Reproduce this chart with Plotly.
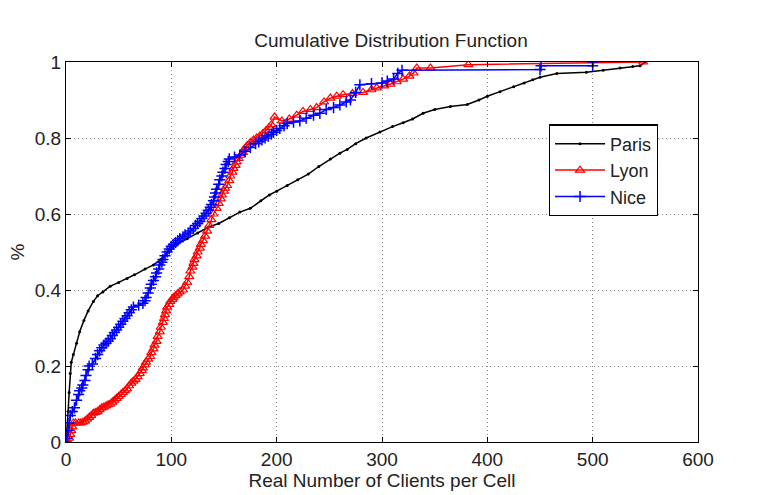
import plotly.graph_objects as go

# ---- data (x = clients per cell, y = cumulative fraction) ----
paris_x = [0, 1, 2, 3, 4, 5, 7, 10, 13, 17, 21, 26, 30, 35, 42, 50, 58, 65, 75, 83, 90, 97,
           105, 115, 125, 135, 145, 155, 165, 175, 185, 193, 200, 210, 220, 230, 240, 251, 260,
           267, 275, 285, 298, 310, 320, 329, 339, 350, 365, 381, 392, 400, 412, 425, 435, 443,
           450, 466, 494, 510, 526, 538, 545, 550]
paris_y = [0, 0.03, 0.08, 0.13, 0.18, 0.21, 0.23, 0.26, 0.29, 0.32, 0.345, 0.37, 0.385, 0.395,
           0.41, 0.42, 0.43, 0.44, 0.455, 0.466, 0.48, 0.5, 0.52, 0.535, 0.55, 0.565, 0.575, 0.59,
           0.605, 0.615, 0.635, 0.65, 0.66, 0.675, 0.69, 0.705, 0.725, 0.745, 0.76, 0.77, 0.785,
           0.8, 0.816, 0.83, 0.84, 0.85, 0.865, 0.875, 0.883, 0.888, 0.9, 0.91, 0.922, 0.935,
           0.945, 0.953, 0.96, 0.97, 0.973, 0.978, 0.984, 0.988, 0.99, 1.0]

lyon_x = [2, 3, 4, 5, 6, 7, 9, 12, 14, 16, 18, 20, 22, 24, 26, 28, 30, 32, 34, 36, 38, 40, 42,
          44, 46, 48, 50, 52, 54, 56, 58, 60, 62, 64, 66, 68, 70, 72, 73, 75, 76, 78, 80, 81, 83,
          84, 86, 87, 89, 90, 92, 93, 94, 95, 96, 98, 99, 101, 102, 104, 106, 108, 111, 113, 115,
          117, 118, 120, 121, 122, 124, 125, 127, 128, 130, 132, 134, 136, 138, 140, 143, 145,
          147, 148, 150, 151, 153, 155, 156, 158, 159, 161, 162, 164, 166, 168, 169, 171, 172,
          175, 178, 181, 184, 187, 190, 193, 195, 198, 205, 212, 219, 225, 232, 238, 245, 251,
          257, 263, 272, 282, 290, 295, 302, 308, 314, 320, 326, 330, 333, 346, 382, 548]
lyon_y = [0, 0.01, 0.02, 0.03, 0.04, 0.05, 0.05, 0.05, 0.05, 0.052, 0.055, 0.06, 0.065, 0.07,
          0.076, 0.078, 0.08, 0.085, 0.09, 0.092, 0.095, 0.098, 0.1, 0.105, 0.11, 0.115, 0.12,
          0.125, 0.13, 0.135, 0.14, 0.148, 0.155, 0.16, 0.165, 0.172, 0.18, 0.188, 0.195, 0.203,
          0.21, 0.218, 0.225, 0.235, 0.245, 0.255, 0.265, 0.278, 0.29, 0.302, 0.315, 0.325,
          0.335, 0.345, 0.355, 0.362, 0.37, 0.375, 0.38, 0.385, 0.39, 0.395, 0.4, 0.41, 0.42,
          0.435, 0.45, 0.46, 0.47, 0.48, 0.49, 0.5, 0.51, 0.52, 0.53, 0.542, 0.555, 0.57, 0.585,
          0.6, 0.615, 0.628, 0.64, 0.65, 0.66, 0.668, 0.675, 0.688, 0.7, 0.71, 0.72, 0.728, 0.737,
          0.746, 0.755, 0.762, 0.77, 0.775, 0.78, 0.788, 0.795, 0.8, 0.805, 0.812, 0.82, 0.828,
          0.835, 0.855, 0.845, 0.85, 0.86, 0.87, 0.875, 0.88, 0.895, 0.905, 0.91, 0.914, 0.917,
          0.92, 0.927, 0.932, 0.937, 0.942, 0.948, 0.955, 0.963, 0.971, 0.984, 0.984, 0.993, 1.0]

nice_x = [0, 1, 2, 3, 4, 6, 8, 10, 12, 13, 15, 16, 18, 19, 21, 22, 25, 28, 30, 32, 34, 36, 38,
          40, 42, 44, 46, 48, 50, 52, 54, 56, 58, 60, 62, 64, 69, 73, 75, 76, 78, 80, 81, 83, 85,
          86, 88, 89, 91, 92, 94, 96, 98, 100, 102, 104, 106, 108, 111, 113, 116, 118, 121, 123,
          125, 127, 129, 131, 133, 135, 137, 138, 140, 141, 142, 143, 145, 146, 148, 149, 151,
          152, 154, 155, 160, 165, 170, 175, 180, 183, 186, 189, 192, 195, 197, 200, 203, 207,
          210, 216, 222, 228, 235, 241, 247, 254, 260, 266, 270, 275, 279, 290, 300, 305, 311,
          315, 319, 450, 451, 500, 500]
nice_y = [0, 0.01, 0.03, 0.05, 0.07, 0.08, 0.09, 0.11, 0.125, 0.135, 0.142, 0.15, 0.162, 0.175,
          0.19, 0.2, 0.205, 0.22, 0.23, 0.24, 0.248, 0.255, 0.26, 0.265, 0.272, 0.28, 0.288,
          0.295, 0.302, 0.31, 0.318, 0.325, 0.332, 0.34, 0.348, 0.355, 0.36, 0.365, 0.372, 0.38,
          0.392, 0.405, 0.415, 0.425, 0.435, 0.445, 0.455, 0.466, 0.473, 0.48, 0.49, 0.5, 0.508,
          0.515, 0.52, 0.525, 0.53, 0.535, 0.54, 0.545, 0.55, 0.555, 0.562, 0.57, 0.575, 0.58,
          0.588, 0.595, 0.602, 0.61, 0.618, 0.625, 0.635, 0.645, 0.655, 0.665, 0.678, 0.69, 0.7,
          0.71, 0.72, 0.73, 0.738, 0.745, 0.75, 0.755, 0.765, 0.775, 0.785, 0.79, 0.795, 0.8,
          0.805, 0.81, 0.815, 0.82, 0.825, 0.832, 0.838, 0.842, 0.845, 0.852, 0.86, 0.865, 0.875,
          0.88, 0.887, 0.895, 0.9, 0.92, 0.94, 0.943, 0.945, 0.95, 0.955, 0.97, 0.978, 0.98,
          0.99, 0.99, 1.0]

x_ticks = [0, 100, 200, 300, 400, 500, 600]
y_ticks = [0, 0.2, 0.4, 0.6, 0.8, 1]
y_tick_text = ["0", "0.2", "0.4", "0.6", "0.8", "1"]

FONT = "Liberation Sans, Arial, sans-serif"
FS = 19
TXT = "#222"

fig = go.Figure()
fig.add_trace(go.Scatter(x=paris_x, y=paris_y, name="Paris", mode="lines+markers",
                         line=dict(color="black", width=1.5),
                         marker=dict(symbol="circle", size=3, color="black")))
fig.add_trace(go.Scatter(x=lyon_x, y=lyon_y, name="Lyon", mode="lines+markers",
                         line=dict(color="#ff0000", width=1.5),
                         marker=dict(symbol="triangle-up-open", size=8, color="#ff0000",
                                     line=dict(width=1.2, color="#ff0000"))))
fig.add_trace(go.Scatter(x=nice_x, y=nice_y, name="Nice", mode="lines+markers",
                         line=dict(color="#0000ff", width=1.5),
                         marker=dict(symbol="cross-thin-open", size=8, color="#0000ff",
                                     line=dict(width=1.5, color="#0000ff"))))

axis_common = dict(showline=True, linecolor="black", linewidth=1.3, mirror="ticks",
                   ticks="inside", ticklen=5, tickcolor="black", tickwidth=1,
                   showgrid=True, gridcolor="#8a8a8a", griddash="1px,3px", gridwidth=1,
                   zeroline=False, tickfont=dict(family=FONT, size=FS, color=TXT))

fig.update_xaxes(range=[0, 600], tickvals=x_ticks, ticktext=[str(v) for v in x_ticks],
                 title=dict(text="Real Number of Clients per Cell",
                            font=dict(family=FONT, size=FS, color=TXT), standoff=0),
                 **axis_common)
fig.update_yaxes(range=[0, 1], tickvals=y_ticks, ticktext=y_tick_text,
                 title=dict(text="%", font=dict(family=FONT, size=FS, color=TXT), standoff=4),
                 **axis_common)

fig.update_layout(
    width=782, height=495,
    margin=dict(l=66, r=84, t=62, b=49),
    paper_bgcolor="white", plot_bgcolor="white",
    title=dict(text="Cumulative Distribution Function", x=0.5, xanchor="center",
               y=1 - 40 / 495, yanchor="middle",
               font=dict(family=FONT, size=FS, color=TXT)),
    legend=dict(x=0.764, y=0.836, xanchor="left", yanchor="top",
                bgcolor="white", bordercolor="black", borderwidth=1.2,
                font=dict(family=FONT, size=18, color=TXT),
                tracegroupgap=0, itemwidth=50),
    showlegend=True,
)

fig.write_html("out.html")
